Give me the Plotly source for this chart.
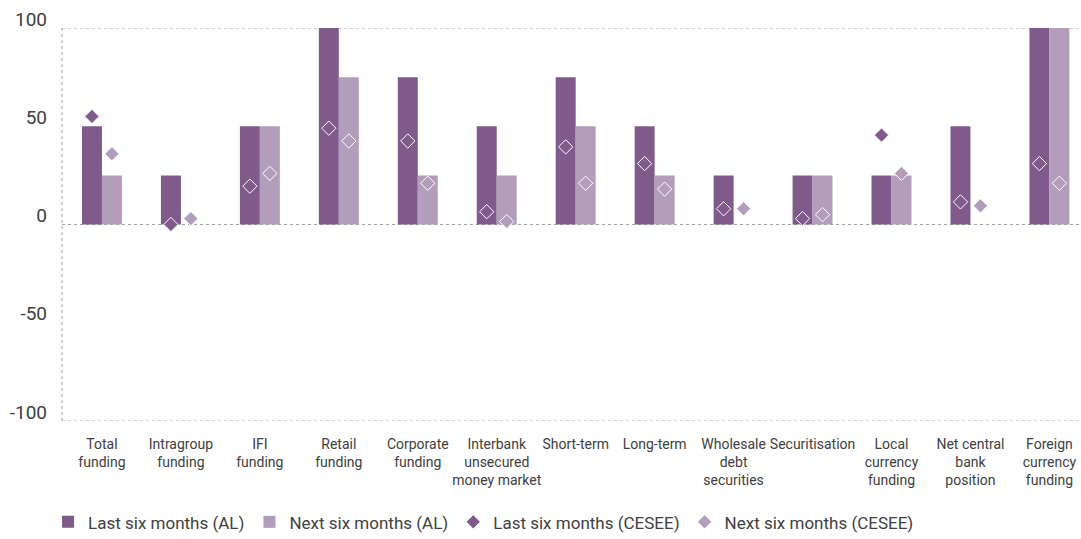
import plotly.graph_objects as go

categories = ["Total<br>funding", "Intragroup<br>funding", "IFI<br>funding", "Retail<br>funding",
              "Corporate<br>funding", "Interbank<br>unsecured<br>money market", "Short-term",
              "Long-term", "Wholesale<br>debt<br>securities", "Securitisation",
              "Local<br>currency<br>funding", "Net central<br>bank<br>position",
              "Foreign<br>currency<br>funding"]

last_al = [50, 25, 50, 100, 75, 50, 75, 50, 25, 25, 25, 50, 100]
next_al = [25, 0, 50, 75, 25, 25, 50, 25, 0, 25, 25, 0, 100]
last_cesee = [55, 0, 19.5, 49, 42.5, 6.5, 39.5, 31, 8, 3, 45.5, 11.5, 31]
next_cesee = [36, 3, 26, 42.5, 21, 1.5, 21, 18, 8, 5, 26, 9.5, 21]

y_ticks = [-100, -50, 0, 50, 100]
y_tick_text = ["-100", "-50", "0", "50", "100"]
grid_vals = [-100, 0, 100]

DARK = "#7F5A8B"
LIGHT = "#B29EBA"
TEXT = "#404040"
FONT = "Roboto, sans-serif"

fig = go.Figure()
fig.add_trace(go.Bar(x=categories, y=last_al, name="Last six months (AL)",
                     marker=dict(color=DARK, line=dict(width=0)), offsetgroup="a"))
fig.add_trace(go.Bar(x=categories, y=next_al, name="Next six months (AL)",
                     marker=dict(color=LIGHT, line=dict(width=0)), offsetgroup="b"))
fig.add_trace(go.Scatter(x=categories, y=last_cesee, name="Last six months (CESEE)", mode="markers",
                         marker=dict(symbol="diamond", size=11, color=DARK,
                                     line=dict(color="white", width=1)), offsetgroup="a"))
fig.add_trace(go.Scatter(x=categories, y=next_cesee, name="Next six months (CESEE)", mode="markers",
                         marker=dict(symbol="diamond", size=11, color=LIGHT,
                                     line=dict(color="white", width=1)), offsetgroup="b"))

shapes = []
for v in grid_vals:
    shapes.append(dict(type="line", xref="paper", x0=0, x1=1, yref="y", y0=v, y1=v,
                       line=dict(color="#A0A0A0", width=1, dash="dot"), layer="below"))
shapes.append(dict(type="line", xref="paper", x0=0, x1=0, yref="paper", y0=0, y1=1,
                   line=dict(color="#A0A0A0", width=1, dash="dot"), layer="below"))

fig.update_layout(
    width=1081, height=539,
    margin=dict(l=62, r=0, t=28, b=118, autoexpand=False),
    paper_bgcolor="white", plot_bgcolor="white",
    barmode="group", bargap=0.494, bargroupgap=0,
    scattermode="group", scattergap=0.494,
    font=dict(family=FONT, color=TEXT),
    shapes=shapes,
    showlegend=True,
    legend=dict(orientation="h", x=-0.0137, xanchor="left", y=-0.212, yanchor="top",
                font=dict(size=17, color=TEXT), traceorder="normal",
                itemwidth=30, tracegroupgap=0),
    xaxis=dict(type="category", range=[-0.506, 12.4], showgrid=False, zeroline=False,
               showline=False, ticks="", tickfont=dict(size=14, color=TEXT), tickangle=0,
               ticklabelstandoff=13),
    yaxis=dict(range=[-100, 100], tickvals=y_ticks, ticktext=y_tick_text,
               showgrid=False, zeroline=False,
               showline=False, ticks="", tickfont=dict(size=19, color=TEXT),
               ticklabelstandoff=14, ticklabelshift=-9, ticklabeloverflow="allow"),
)

fig.write_html("out.html", config={"displayModeBar": False},
               post_script="document.body.style.margin='0';document.body.style.overflow='hidden';")
